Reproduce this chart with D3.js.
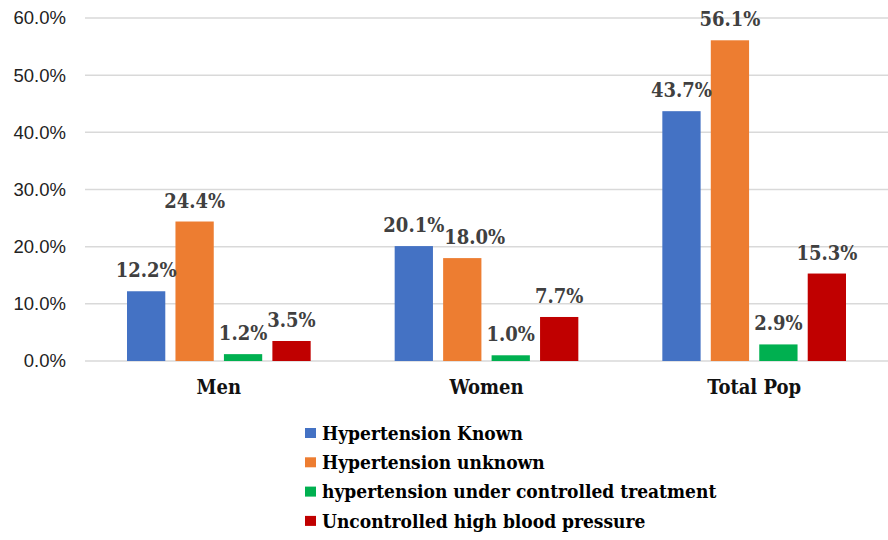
<!DOCTYPE html>
<html>
<head>
<meta charset="utf-8">
<script src="https://cdn.jsdelivr.net/npm/d3@7"></script>
<style>
  body { margin: 0; background: #fff; }
  .serif { font-family: "DejaVu Serif Condensed", "DejaVu Serif", serif; font-stretch: condensed; font-weight: bold; }
</style>
</head>
<body>
<svg id="chart" width="888" height="540"></svg>
<script>
// Chart data
const categories = ['Men', 'Women', 'Total Pop'];
const seriesNames = [
    'Hypertension Known',
    'Hypertension unknown',
    'hypertension under controlled treatment',
    'Uncontrolled high blood pressure'
];
const knownValues = [12.2, 20.1, 43.7];
const unknownValues = [24.4, 18.0, 56.1];
const controlledValues = [1.2, 1.0, 2.9];
const uncontrolledValues = [3.5, 7.7, 15.3];
const yTicks = [0, 10, 20, 30, 40, 50, 60];
const colors = ['#4472C4', '#ED7D31', '#00B050', '#C00000'];

const seriesValues = [knownValues, unknownValues, controlledValues, uncontrolledValues];

const svg = d3.select('#chart');
const margin = { top: 18, left: 85, right: 0 };
const plotBottom = 361;
const width = 888;

const x = d3.scaleBand()
    .domain(categories)
    .range([margin.left, width - margin.right]);

const x1 = d3.scaleBand()
    .domain(seriesNames)
    .range([42, x.bandwidth() - 42])
    .paddingInner(0.21);

const y = d3.scaleLinear()
    .domain([0, 60])
    .range([plotBottom, margin.top]);

// Gridlines
svg.append('g')
    .selectAll('line')
    .data(yTicks)
    .join('line')
    .attr('x1', margin.left)
    .attr('x2', width)
    .attr('y1', d => y(d))
    .attr('y2', d => y(d))
    .attr('stroke', '#d9d9d9')
    .attr('stroke-width', 1.5);

// Y tick labels
svg.append('g')
    .selectAll('text')
    .data(yTicks)
    .join('text')
    .attr('x', 66)
    .attr('y', d => y(d))
    .attr('dy', '0.35em')
    .attr('text-anchor', 'end')
    .style('font-family', '"Liberation Sans", Arial, sans-serif')
    .style('font-size', '18.5px')
    .style('fill', '#222')
    .text(d => d.toFixed(1) + '%');

// Bars
const bars = [];
categories.forEach((cat, ci) => {
    seriesNames.forEach((s, si) => {
        bars.push({ cat: cat, series: s, idx: si, value: seriesValues[si][ci] });
    });
});

svg.append('g')
    .selectAll('rect')
    .data(bars)
    .join('rect')
    .attr('x', d => x(d.cat) + x1(d.series))
    .attr('y', d => y(d.value))
    .attr('width', x1.bandwidth())
    .attr('height', d => plotBottom - y(d.value))
    .attr('fill', d => colors[d.idx]);

// Value labels
const labels = svg.append('g')
    .selectAll('text')
    .data(bars)
    .join('text')
    .attr('class', 'serif')
    .attr('x', d => x(d.cat) + x1(d.series) + x1.bandwidth() / 2)
    .attr('y', d => y(d.value) - 14)
    .attr('text-anchor', 'middle')
    .style('font-size', '20px')
    .style('fill', '#404040')
    .text(d => d.value.toFixed(1) + '%');

// Nudge labels right when they collide with the previous one in the group
let prev = null;
labels.each(function(d) {
    const box = this.getBBox();
    if (prev && prev.cat === d.cat && Math.abs(prev.box.y - box.y) < box.height * 0.8) {
        const overlap = prev.box.x + prev.box.width + prev.dx - box.x;
        if (overlap > 0) {
            d3.select(this).attr('dx', overlap);
            prev = { cat: d.cat, box: box, dx: overlap };
            return;
        }
    }
    prev = { cat: d.cat, box: box, dx: 0 };
});

// Category labels
svg.append('g')
    .selectAll('text')
    .data(categories)
    .join('text')
    .attr('class', 'serif')
    .attr('x', d => x(d) + x.bandwidth() / 2)
    .attr('y', 394)
    .attr('text-anchor', 'middle')
    .style('font-size', '20px')
    .style('fill', '#111')
    .text(d => d);

// Legend
const legend = svg.append('g')
    .selectAll('g')
    .data(seriesNames)
    .join('g')
    .attr('transform', (d, i) => `translate(305, ${433 + i * 29.3})`);

legend.append('rect')
    .attr('x', 0)
    .attr('y', -5)
    .attr('width', 11)
    .attr('height', 10)
    .attr('fill', (d, i) => colors[i]);

legend.append('text')
    .attr('class', 'serif')
    .attr('x', 17)
    .attr('y', 0)
    .attr('dy', '0.35em')
    .style('font-size', '19px')
    .style('fill', '#000')
    .text(d => d);
</script>
</body>
</html>
